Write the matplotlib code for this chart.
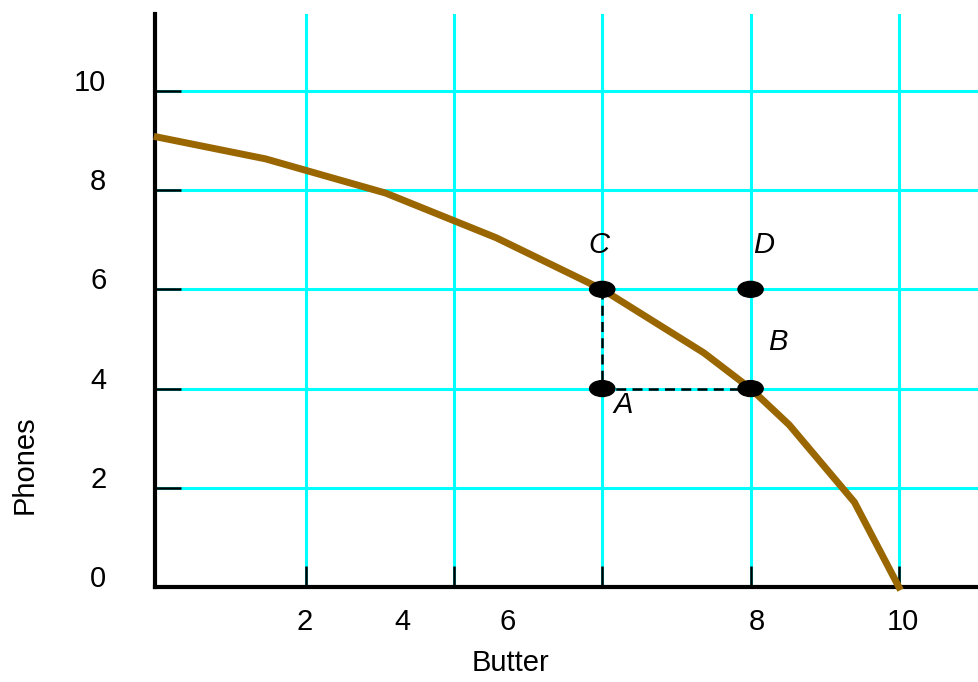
"""Production possibilities frontier: Butter vs Phones."""
import matplotlib
matplotlib.use("Agg")
import matplotlib.pyplot as plt
import matplotlib.transforms as mtransforms
from matplotlib.patches import Ellipse

plt.rcParams["font.family"] = ["Liberation Sans", "DejaVu Sans"]

# Frontier (butter, phones)
butter = [0, 1.46, 3.08, 4.57, 6.0, 7.37, 8.0, 8.52, 9.40, 10.0]
phones = [9.07, 8.63, 7.94, 7.04, 6.0, 4.72, 4.0, 3.27, 1.71, 0.0]

# Labelled points
point_names = ["A", "B", "C", "D"]
point_x = [6, 8, 6, 8]
point_y = [4, 4, 6, 6]

# Axis ticks and where the printed labels sit
grid_ticks = [2, 4, 6, 8, 10]
x_label_pos = [1.99, 3.30, 4.73, 8.09, 10.06]
x_label_text = ["2", "4", "6", "8", "10"]
y_ticks = [0, 2, 4, 6, 8, 10]

FS = 21

fig = plt.figure(figsize=(9.79, 6.82), dpi=100)
ax = fig.add_axes([155 / 979, 95 / 682, 824 / 979, 573 / 682])
ax.set_xlim(-0.03, 11.08)
ax.set_ylim(0, 11.55)

# Grid
for g in grid_ticks:
    ax.axvline(g, color="#00ffff", lw=2.2, zorder=1)
    ax.axhline(g, color="#00ffff", lw=2.2, zorder=1)

# Spines
for s in ["top", "right"]:
    ax.spines[s].set_visible(False)
for s in ["left", "bottom"]:
    ax.spines[s].set_linewidth(3)

# Ticks
ax.set_xticks(grid_ticks)
ax.set_xticklabels([""] * len(grid_ticks))
ax.tick_params(axis="x", which="major", direction="in", length=15, width=1.8)
ax.set_xticks(x_label_pos, x_label_text, minor=True)
ax.tick_params(axis="x", which="minor", length=0, pad=15, labelsize=FS)

ax.set_yticks(y_ticks)
ax.tick_params(axis="y", direction="in", length=19, width=1.8, pad=35, labelsize=FS)
offset = mtransforms.ScaledTranslation(0, 11 / 100, fig.dpi_scale_trans)
for lab in ax.get_yticklabels():
    lab.set_transform(lab.get_transform() + offset)

# Frontier curve
ax.plot(butter, phones, color="#996600", lw=5, zorder=3, clip_on=False,
        solid_joinstyle="miter")

# Dashed guides C -> A -> B
ax.plot([point_x[2], point_x[0], point_x[1]], [point_y[2], point_y[0], point_y[1]],
        color="black", lw=1.8, ls=(0, (4, 2.5)), zorder=4)

# Points
for px, py in zip(point_x, point_y):
    ax.add_patch(Ellipse((px, py), 0.34, 0.32, color="black", zorder=5))

label_x = [6.28, 8.37, 5.96, 8.18]
label_y = [3.67, 4.94, 6.9, 6.9]
for name, lx, ly in zip(point_names, label_x, label_y):
    ax.text(lx, ly, name, fontsize=FS, style="italic", ha="center", va="center")

fig.text(25 / 979, 1 - 465 / 682, "Phones", rotation=90, fontsize=FS,
         ha="center", va="center")
fig.text(511 / 979, 1 - 663 / 682, "Butter", fontsize=FS, ha="center", va="center")

fig.savefig("out.png", dpi=100)
